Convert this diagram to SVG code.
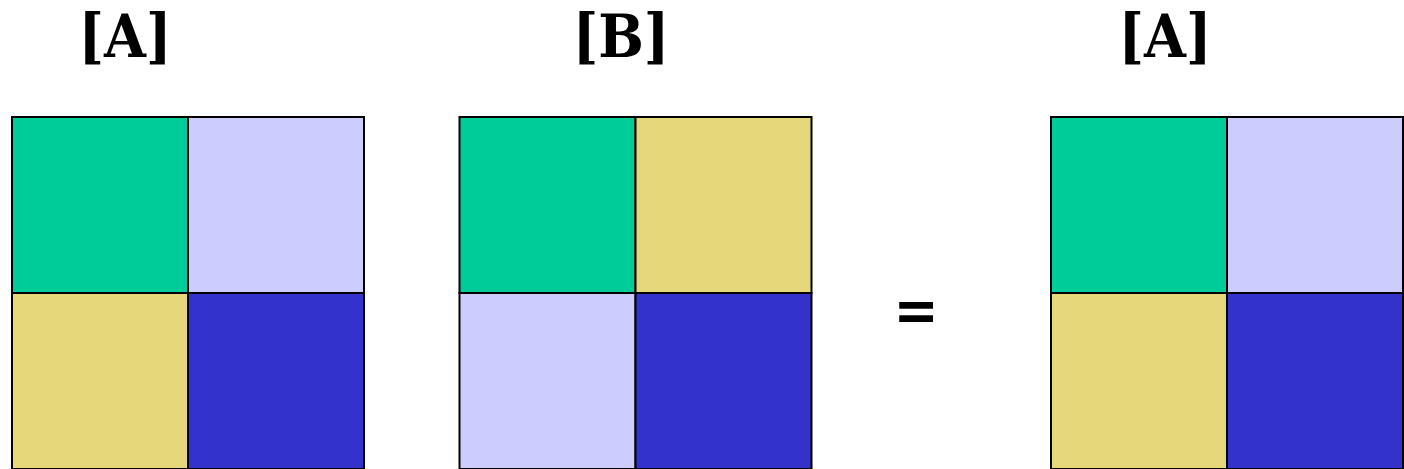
<svg xmlns="http://www.w3.org/2000/svg" width="1404" height="469" viewBox="0 0 1404 469">
<style>
.lbl{font-family:"DejaVu Serif","Liberation Serif",serif;font-weight:bold;font-stretch:condensed;font-size:60px;fill:#000;text-anchor:middle}
.c{stroke:#000;stroke-width:2}
.g{fill:#00CC99}.l{fill:#CCCCFF}.y{fill:#E6D77A}.b{fill:#3333CC}
</style>
<rect width="1404" height="469" fill="#fff"/>
<g id="matrixA1">
<text class="lbl" x="125" y="57">[A]</text>
<rect class="c g" x="12" y="117" width="176" height="176"/>
<rect class="c l" x="188" y="117" width="176" height="176"/>
<rect class="c y" x="12" y="293" width="176" height="176"/>
<rect class="c b" x="188" y="293" width="176" height="176"/>
</g>
<g id="matrixB">
<text class="lbl" x="621" y="57">[B]</text>
<rect class="c g" x="459.5" y="117" width="176" height="176"/>
<rect class="c y" x="635.5" y="117" width="176" height="176"/>
<rect class="c l" x="459.5" y="293" width="176" height="176"/>
<rect class="c b" x="635.5" y="293" width="176" height="176"/>
</g>
<g id="equals">
<text class="lbl" x="916" y="331">=</text>
</g>
<g id="matrixA2">
<text class="lbl" x="1165" y="57">[A]</text>
<rect class="c g" x="1051" y="117" width="176" height="176"/>
<rect class="c l" x="1227" y="117" width="176" height="176"/>
<rect class="c y" x="1051" y="293" width="176" height="176"/>
<rect class="c b" x="1227" y="293" width="176" height="176"/>
</g>
<g id="connectors"/>
</svg>
